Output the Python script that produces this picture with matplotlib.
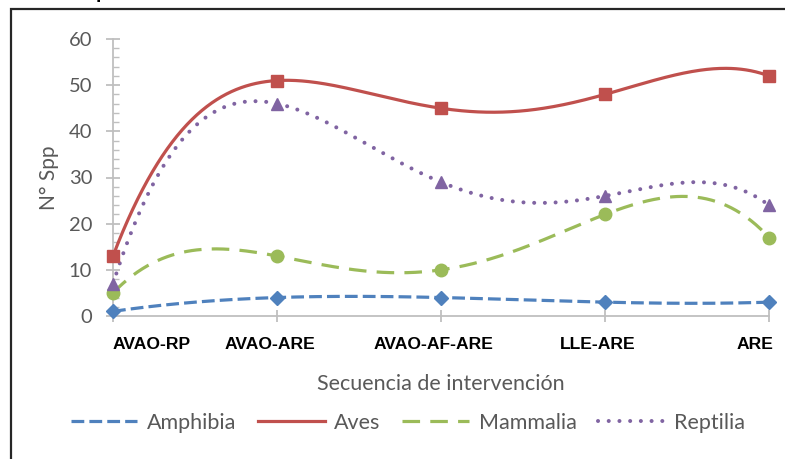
import numpy as np
import matplotlib
matplotlib.use("Agg")
import matplotlib.pyplot as plt
from matplotlib.patches import Rectangle

# ---- data -------------------------------------------------------------
categories = ["AVAO-RP", "AVAO-ARE", "AVAO-AF-ARE", "LLE-ARE", "ARE"]
amphibia = [1, 4, 4, 3, 3]
aves = [13, 51, 45, 48, 52]
mammalia = [5, 13, 10, 22, 17]
reptilia = [7, 46, 29, 26, 24]
yticks = [0, 10, 20, 30, 40, 50, 60]

# ---- helpers ----------------------------------------------------------
def smooth_curve(y, samples=400):
    """Interpolating polynomial through all points of a series."""
    xk = np.arange(len(y), dtype=float)
    coef = np.polyfit(xk, np.asarray(y, float), len(y) - 1)
    xs = np.linspace(xk[0], xk[-1], samples)
    return xs, np.polyval(coef, xs)


W, H, DPI = 785, 459, 100
fig = plt.figure(figsize=(W / DPI, H / DPI), dpi=DPI)
fig.patch.set_facecolor("white")

# chart frame (top and left edges visible)
fig.patches.append(Rectangle((10.5 / W, -0.2), 1.2, 1.2 - 8.5 / H,
                             transform=fig.transFigure, fill=False,
                             edgecolor="#262626", linewidth=1.6))
fig.text(96 / W, 1 + 1.5 / H, "p", fontsize=14, fontweight="bold",
         family="Liberation Sans", ha="left", va="baseline", color="black")

ax = fig.add_axes([113 / W, 1 - 316 / H, 656 / W, 277 / H])
ax.set_xlim(0, len(categories) - 1)
ax.set_ylim(0, 60)
ax.set_facecolor("none")

x = np.arange(len(categories))
# name, values, colour, line width, dash pattern, marker, marker size
series = [
    ("Amphibia", amphibia, "#4F81BD", 2.3, (4, 1.6), "D", 7.5),
    ("Aves", aves, "#C0504D", 2.3, None, "s", 8.5),
    ("Mammalia", mammalia, "#9BBB59", 2.3, (5.5, 3.2), "o", 9),
    ("Reptilia", reptilia, "#8064A2", 2.9, (0.01, 2.65), "^", 9),
]
handles = []
for name, vals, color, lw, dash, marker, ms in series:
    sx, sy = smooth_curve(vals)
    (ln,) = ax.plot(sx, sy, color=color, lw=lw, clip_on=False,
                    solid_capstyle="round")
    (h,) = ax.plot([], [], color=color, lw=lw, label=name)
    for artist in (ln, h):
        if dash is not None:
            artist.set_dashes(dash)
            artist.set_dash_capstyle("round" if name == "Reptilia" else "butt")
    ax.plot(x, vals, linestyle="none", marker=marker, ms=ms, color=color,
            mec=color, clip_on=False, zorder=3)
    handles.append(h)

# axes styling
axis_color = "#BFBFBF"
for s in ("top", "right"):
    ax.spines[s].set_visible(False)
for s in ("left", "bottom"):
    ax.spines[s].set_color(axis_color)
    ax.spines[s].set_linewidth(1.3)

ax.set_yticks(yticks)
ax.set_yticks(np.arange(0, 61, 2), minor=True)
ax.tick_params(axis="y", which="major", direction="inout", length=10,
               width=1.3, color=axis_color, labelsize=14.5, labelcolor="#595959",
               pad=10)
ax.tick_params(axis="y", which="minor", direction="in", length=4.5,
               width=1.0, color=axis_color)
for t in ax.get_yticklabels():
    t.set_family("Lato")

ax.set_xticks(x)
ax.set_xticklabels([])
ax.tick_params(axis="x", which="major", direction="inout", length=9,
               width=1.3, color=axis_color)

# category labels, kept inside the chart at both ends
px = 72 / DPI
for i, lab in enumerate(categories):
    if i == 0:
        ha, dx = "left", 0
    elif i == len(categories) - 1:
        ha, dx = "right", 4 * px
    else:
        ha, dx = "center", -7 * px
    ax.annotate(lab, xy=(i, 0), xycoords=("data", "axes fraction"),
                xytext=(dx, -15), textcoords="offset points",
                ha=ha, va="top", fontsize=12.6, fontweight="bold",
                family="Liberation Sans", color="black", annotation_clip=False)

fig.text(49 / W, 1 - 178 / H, "N° Spp", rotation=90, ha="center", va="center",
         fontsize=15, family="Lato", color="#595959")
fig.text(441 / W, 1 - 384 / H, "Secuencia de intervención", ha="center",
         va="center", fontsize=15.5, family="Lato", color="#595959")

leg = fig.legend(handles=handles, loc="center", ncol=4, frameon=False,
                 bbox_to_anchor=(408 / W, 1 - 423 / H),
                 prop={"family": "Lato", "size": 15.5},
                 handlelength=3.1, handletextpad=0.45, columnspacing=1.0,
                 borderaxespad=0, borderpad=0)
for t in leg.get_texts():
    t.set_color("#595959")

fig.savefig("out.png", dpi=DPI, facecolor="white")
